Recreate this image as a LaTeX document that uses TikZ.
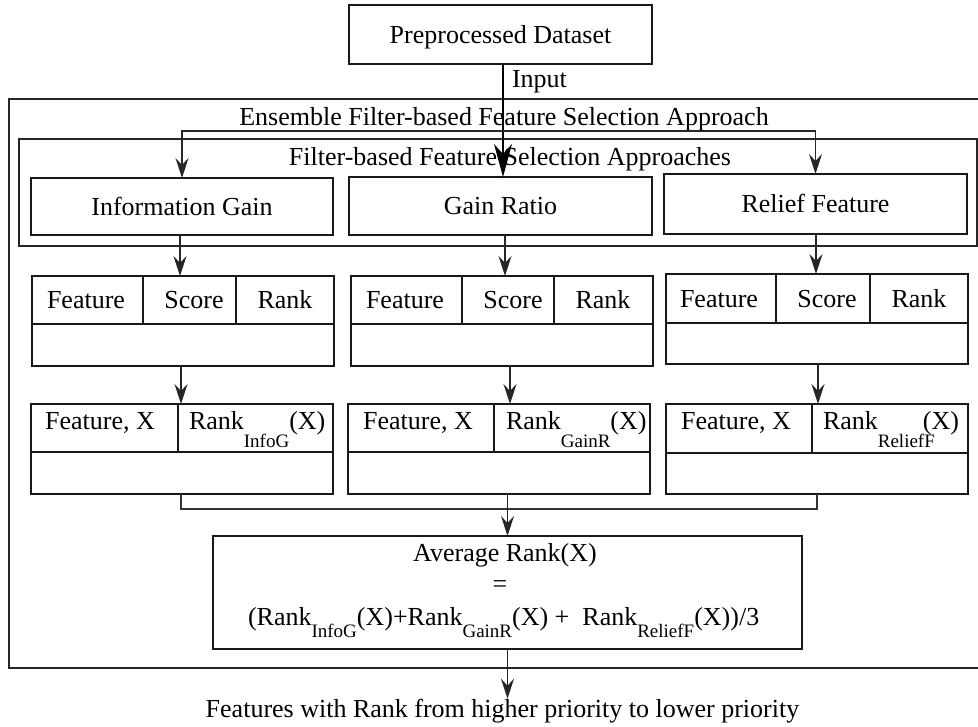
\documentclass[tikz,border=0pt]{standalone}
\usepackage{fontspec}
\setmainfont{Liberation Serif}
\usetikzlibrary{arrows.meta}
\newcommand{\sbs}[1]{\raisebox{-18pt}{\fontsize{19}{19}\selectfont #1}}
\newcommand{\sbsm}[1]{\raisebox{-12pt}{\fontsize{19}{19}\selectfont #1}}
\newcommand{\cbx}[7][]{\node[cell,#1,minimum width={(#5-#3)*1pt},minimum height={(#6-#4)*1pt},anchor=north west] (#2) at (#3,#4) {#7};}
\tikzset{
  cell/.style={draw=black!90, line width=2pt, inner sep=0pt, outer sep=0pt},
  tbox/.style={text height=18pt, text depth=0pt},
  frame/.style={line width=1.8pt, draw=black!85},
  txt/.style={inner sep=0pt, outer sep=0pt},
  arr/.style={line width=1.2pt, draw=black!85, -{Stealth[length=20pt,width=13pt,inset=7pt]}},
  bigarr/.style={line width=1.5pt, draw=black, -{Stealth[length=33pt,width=18pt,inset=10pt]}},
  ln/.style={line width=1.2pt, draw=black!80}
}
\begin{document}
\begin{tikzpicture}[x=1pt,y=-1pt,font=\fontsize{26}{30}\selectfont]
\useasboundingbox (0,0) rectangle (978,727);
% frames
\cbx[frame]{outer}{9}{99}{990}{668}{}
\cbx[frame]{inner}{19}{139}{977}{246}{}
\node[txt, anchor=base] (ttlE) at (504,126) {Ensemble Filter-based Feature Selection Approach};
\node[txt, anchor=base] (ttlF) at (510,166) {Filter-based Feature Selection Approaches};
% top box
\cbx[tbox]{pd}{349}{5}{652}{64}{Preprocessed Dataset}
\node[txt, anchor=base west] (inp) at (512,88) {Input};
% approaches
\cbx[tbox]{ig}{31}{178}{333}{235}{Information Gain}
\cbx[tbox]{gr}{349}{177}{652}{235}{Gain Ratio}
\cbx[tbox]{rf}{664}{174}{967}{234}{Relief Feature}
% score tables
\cbx{t1a}{32}{276}{143}{324}{}
\cbx{t1b}{143}{276}{236}{324}{}
\cbx{t1c}{236}{276}{334}{324}{}
\cbx{t1d}{32}{324}{334}{366}{}
\cbx{t2a}{351}{276}{462}{324}{}
\cbx{t2b}{462}{276}{554}{324}{}
\cbx{t2c}{554}{276}{653}{324}{}
\cbx{t2d}{351}{324}{653}{366}{}
\cbx{t3a}{666}{274}{776}{323}{}
\cbx{t3b}{776}{274}{870}{323}{}
\cbx{t3c}{870}{274}{968}{323}{}
\cbx{t3d}{666}{323}{968}{364}{}
\node[txt, anchor=base] (t1ft) at (86,309) {Feature};
\node[txt, anchor=base] (t1sc) at (194,309) {Score};
\node[txt, anchor=base] (t1rk) at (285,309) {Rank};
\node[txt, anchor=base] (t2ft) at (405,309) {Feature};
\node[txt, anchor=base] (t2sc) at (513,309) {Score};
\node[txt, anchor=base] (t2rk) at (603,309) {Rank};
\node[txt, anchor=base] (t3ft) at (719,308) {Feature};
\node[txt, anchor=base] (t3sc) at (827,308) {Score};
\node[txt, anchor=base] (t3rk) at (919,308) {Rank};
% rank tables
\cbx{r1a}{31}{404}{178}{452}{}
\cbx{r1b}{178}{404}{333}{452}{}
\cbx{r1c}{31}{452}{333}{494}{}
\cbx{r2a}{348}{404}{494}{452}{}
\cbx{r2b}{494}{404}{650}{452}{}
\cbx{r2c}{348}{452}{650}{494}{}
\cbx{r3a}{666}{404}{812}{453}{}
\cbx{r3b}{812}{404}{968}{453}{}
\cbx{r3c}{666}{453}{968}{494}{}
\node[txt, anchor=base] (r1ft) at (100,429) {Feature, X};
\node[txt, anchor=base west] (r1rk) at (189,429) {Rank\sbs{InfoG}(X)};
\node[txt, anchor=base] (r2ft) at (418,429) {Feature, X};
\node[txt, anchor=base west] (r2rk) at (506,429) {Rank\sbs{GainR}(X)};
\node[txt, anchor=base] (r3ft) at (736,430) {Feature, X};
\node[txt, anchor=base west] (r3rk) at (823,430) {Rank\sbs{ReliefF}\kern-12pt(X)};
% average box
\cbx{avg}{213}{536}{802}{649}{}
\node[txt, anchor=base] (avt) at (505,561) {Average Rank(X)};
\node[txt, anchor=base] (aveq) at (500,592) {=};
\node[txt, anchor=base west] (fm) at (248,625) {(Rank\sbsm{InfoG}(X)+Rank\sbsm{GainR}(X) +\ \ Rank\sbsm{ReliefF}(X))/3};
% output
\node[txt, anchor=base] (out) at (502.5,717) {Features with Rank from higher priority to lower priority};
% connectors
\coordinate (br) at (500,131);
\coordinate (mg) at (500,509);
\draw[bigarr] (pd.south -| 503,0) -- (gr.north -| 503,0);
\draw[arr] (br -| rf.north) -- (br -| ig.north) -- (ig.north);
\draw[arr] (br -| rf.north) -- (rf.north);
\draw[arr] (ig.south -| 180,0) -- (t1a.north -| 180,0);
\draw[arr] (gr.south -| 505,0) -- (t2b.north -| 505,0);
\draw[arr] (rf.south -| 816,0) -- (t3b.north -| 816,0);
\draw[arr] (t1d.south -| 181,0) -- (r1a.north -| 181,0);
\draw[arr] (t2d.south -| 510,0) -- (r2b.north -| 510,0);
\draw[arr] (t3d.south -| 818,0) -- (r3b.north -| 818,0);
\draw[ln] (r1c.south -| 181,0) -- (mg -| 181,0) -- (mg -| 817,0) -- (r3c.south -| 817,0);
\draw[arr] (r2c.south -| avg.north) -- (avg.north);
\draw[arr] (avg.south) -- (avg.south |- out.north);
\end{tikzpicture}
\end{document}
